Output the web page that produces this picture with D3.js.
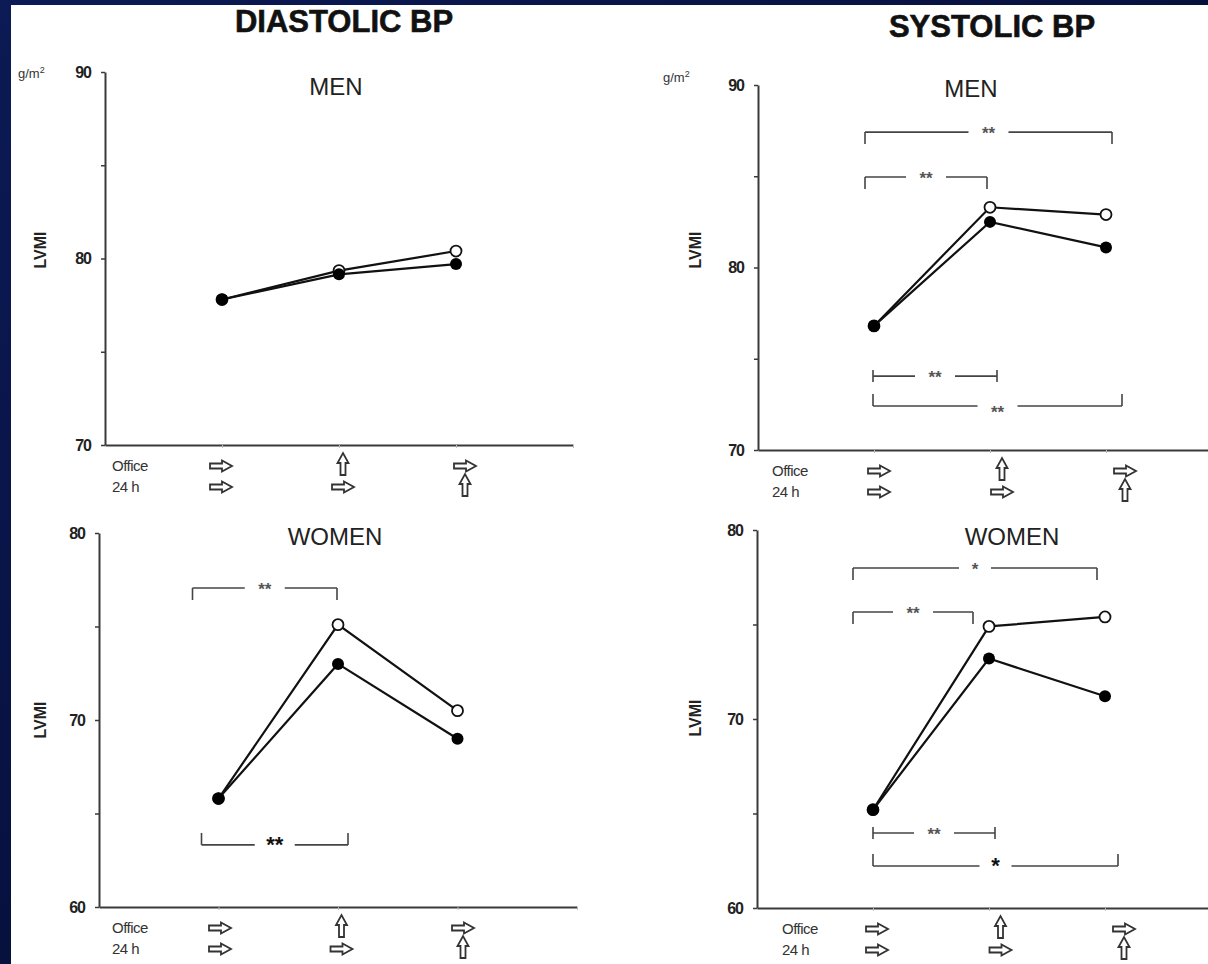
<!DOCTYPE html>
<html><head><meta charset="utf-8">
<script src="https://cdn.jsdelivr.net/npm/d3@7"></script>
<style>html,body{margin:0;padding:0;background:#fff;} svg{display:block;}</style>
</head><body><svg id="c" width="1208" height="964"></svg>
<script>
// ---- data ----
const groups = [1, 2, 3];
const officeArrows = ["right", "up", "right"];
const dayArrows = ["right", "right", "up"];
const rowLabels = ["Office", "24 h"];
const diaMenFilled = [77.8, 79.15, 79.7];
const diaMenOpen = [77.8, 79.35, 80.4];
const diaWomenFilled = [65.8, 73.0, 69.0];
const diaWomenOpen = [65.8, 75.1, 70.5];
const sysMenFilled = [76.8, 82.5, 81.1];
const sysMenOpen = [76.8, 83.3, 82.9];
const sysWomenFilled = [65.2, 73.2, 71.2];
const sysWomenOpen = [65.2, 74.9, 75.4];
const menTicks = [70, 75, 80, 85, 90];
const womenTicks = [60, 65, 70, 75, 80];
const diaMenSig = [];
const diaWomenSig = [
  {from: 1, to: 2, label: "**", side: "top"},
  {from: 1, to: 2, label: "**", side: "bottom"}
];
const sysMenSig = [
  {from: 1, to: 3, label: "**", side: "top"},
  {from: 1, to: 2, label: "**", side: "top"},
  {from: 1, to: 2, label: "**", side: "both"},
  {from: 1, to: 3, label: "**", side: "bottom"}
];
const sysWomenSig = [
  {from: 1, to: 3, label: "*", side: "top"},
  {from: 1, to: 2, label: "**", side: "top"},
  {from: 1, to: 2, label: "**", side: "both"},
  {from: 1, to: 3, label: "*", side: "bottom"}
];

// ---- layout ----
const panels = [
  {filled: diaMenFilled, open: diaMenOpen, ticks: menTicks, sig: diaMenSig, label: "MEN",
   axisX: 105, xEnd: 573, yTop: 72, yBot: 445, labelX: 336, labelY: 95, unit: [18, 78],
   lvmiX: 40, lvmiY: 250, arrowRange: [221, 465], rowX: 112,
   sigLayout: []},
  {filled: diaWomenFilled, open: diaWomenOpen, ticks: womenTicks, sig: diaWomenSig, label: "WOMEN",
   axisX: 99, xEnd: 577, yTop: 533, yBot: 907, labelX: 335, labelY: 545, unit: null,
   lvmiX: 40, lvmiY: 720, arrowRange: [220, 463], rowX: 112,
   sigLayout: [{level: 77.06, dx: [-26, -1], bold: false}, {level: 63.32, dx: [-17, 10], bold: true}]},
  {filled: sysMenFilled, open: sysMenOpen, ticks: menTicks, sig: sysMenSig, label: "MEN",
   axisX: 758, xEnd: 1222, yTop: 85, yBot: 450, labelX: 971, labelY: 97, unit: [663, 82],
   lvmiX: 695, lvmiY: 250, arrowRange: [879, 1125], rowX: 772,
   sigLayout: [{level: 87.42, dx: [-9, 6]}, {level: 84.96, dx: [-9, -3]},
               {level: 74.05, dx: [-1, 7]}, {level: 72.41, dx: [-1, 16], below: true}]},
  {filled: sysWomenFilled, open: sysWomenOpen, ticks: womenTicks, sig: sysWomenSig, label: "WOMEN",
   axisX: 757, xEnd: 1221, yTop: 530, yBot: 908, labelX: 1012, labelY: 545, unit: null,
   lvmiX: 695, lvmiY: 718, arrowRange: [877, 1124], rowX: 782,
   sigLayout: [{level: 77.99, dx: [-20, -8]}, {level: 75.66, dx: [-20, -16]},
               {level: 63.97, dx: [0, 6]}, {level: 62.22, dx: [0, 13], bold: true}]}
];
const titles = [{text: "DIASTOLIC BP", x: 344, y: 32}, {text: "SYSTOLIC BP", x: 992, y: 37}];

const svg = d3.select("#c");
const font = "'Liberation Sans', Arial, sans-serif";
const defs = svg.append("defs");
const grad = defs.append("linearGradient").attr("id", "bg").attr("x1", 0).attr("y1", 0).attr("x2", 1).attr("y2", 1);
grad.append("stop").attr("offset", "0%").attr("stop-color", "#0c1a55");
grad.append("stop").attr("offset", "100%").attr("stop-color", "#020827");
svg.append("rect").attr("width", 1208).attr("height", 964).attr("fill", "url(#bg)");
svg.append("rect").attr("x", 11).attr("y", 5).attr("width", 1197).attr("height", 959).attr("fill", "#fff");

const g0 = svg.append("g").attr("font-family", font);

titles.forEach(t => {
  g0.append("text").attr("x", t.x).attr("y", t.y).attr("text-anchor", "middle")
    .attr("font-size", 31).attr("font-weight", "bold").attr("fill", "#111")
    .attr("stroke", "#111").attr("stroke-width", 0.6).text(t.text);
});

const rightArrow = "M-11,-2.5 L1,-2.5 L1,-5.5 L11,0 L1,5.5 L1,2.5 L-11,2.5 Z";
const axisColor = "#3a3a3a";

panels.forEach(p => {
  const g = g0.append("g");
  const x = d3.scaleLinear().domain([0, 4]).range([p.axisX, p.xEnd]);
  const y = d3.scaleLinear().domain(d3.extent(p.ticks)).range([p.yBot, p.yTop]);
  const ax = d3.scaleLinear().domain([1, 3]).range(p.arrowRange);

  // y axis
  const yAxis = d3.axisLeft(y).tickValues(p.ticks).tickSize(4).tickSizeOuter(0).tickPadding(10)
    .tickFormat(d => d % 10 === 0 ? d : "");
  const ya = g.append("g").attr("transform", `translate(${p.axisX},0)`).call(yAxis);
  ya.select(".domain").attr("stroke", axisColor).attr("stroke-width", 2);
  ya.selectAll(".tick line").attr("stroke", axisColor).attr("stroke-width", 1.5);
  ya.selectAll(".tick text").attr("font-size", 16).attr("font-weight", "bold").attr("fill", "#222")
    .attr("font-family", font).attr("letter-spacing", -1);

  // x axis
  const xAxis = d3.axisBottom(x).tickValues([1, 2, 3, 4]).tickSize(3).tickSizeOuter(0).tickFormat("");
  const xa = g.append("g").attr("transform", `translate(0,${p.yBot})`).call(xAxis);
  xa.select(".domain").attr("stroke", axisColor).attr("stroke-width", 2.2);
  xa.selectAll(".tick line").attr("stroke", "#bbb").attr("stroke-width", 1);

  // unit & LVMI
  if (p.unit) {
    const u = g.append("text").attr("x", p.unit[0]).attr("y", p.unit[1]).attr("font-size", 13).attr("fill", "#333");
    u.append("tspan").text("g/m");
    u.append("tspan").attr("font-size", 9).attr("dy", -5).text("2");
  }
  g.append("text").attr("transform", `translate(${p.lvmiX},${p.lvmiY}) rotate(-90)`)
    .attr("text-anchor", "middle").attr("dy", "0.35em").attr("font-size", 16).attr("font-weight", "bold")
    .attr("fill", "#222").text("LVMI");

  g.append("text").attr("x", p.labelX).attr("y", p.labelY).attr("text-anchor", "middle")
    .attr("font-size", 24).attr("fill", "#222").text(p.label);

  // row labels and arrows
  const rowY = [p.yBot + 21, p.yBot + 42];
  rowLabels.forEach((r, i) => {
    g.append("text").attr("x", p.rowX).attr("y", rowY[i]).attr("dy", "0.35em")
      .attr("font-size", 15).attr("fill", "#333").attr("letter-spacing", -0.5).text(r);
  });
  [officeArrows, dayArrows].forEach((arr, i) => {
    g.selectAll(null).data(arr.map((a, k) => ({a, k: groups[k]}))).enter().append("path")
      .attr("d", rightArrow)
      .attr("transform", d => `translate(${ax(d.k)},${rowY[i] + (d.a === "up" ? -2 : 0)}) rotate(${d.a === "up" ? -90 : 0})`)
      .attr("fill", "#fff").attr("stroke", "#333").attr("stroke-width", 1.8).attr("stroke-linejoin", "miter");
  });

  // significance brackets
  p.sig.forEach((s, i) => {
    const L = p.sigLayout[i];
    const x0 = x(s.from) + L.dx[0], x1 = x(s.to) + L.dx[1], yy = y(L.level);
    const bg = g.append("g").attr("stroke", "#444").attr("stroke-width", 1.6).attr("fill", "none");
    const gapHalf = s.label.length === 2 ? 20 : 16;
    const xm = (x0 + x1) / 2;
    bg.append("line").attr("x1", x0).attr("x2", xm - gapHalf).attr("y1", yy).attr("y2", yy);
    bg.append("line").attr("x1", xm + gapHalf).attr("x2", x1).attr("y1", yy).attr("y2", yy);
    const t = 12;
    [x0, x1].forEach(xe => {
      if (s.side === "top") bg.append("line").attr("x1", xe).attr("x2", xe).attr("y1", yy).attr("y2", yy + t);
      else if (s.side === "bottom") bg.append("line").attr("x1", xe).attr("x2", xe).attr("y1", yy).attr("y2", yy - t);
      else bg.append("line").attr("x1", xe).attr("x2", xe).attr("y1", yy - 6).attr("y2", yy + 6);
    });
    g.append("text").attr("x", xm).attr("y", L.below ? yy + 12 : yy + 7).attr("text-anchor", "middle")
      .attr("font-size", L.bold ? 22 : 17).attr("font-weight", "bold")
      .attr("fill", L.bold ? "#111" : "#555").text(s.label);
  });

  // series
  const line = d3.line().x((d, i) => x(groups[i])).y(d => y(d));
  g.append("path").datum(p.open).attr("d", line).attr("fill", "none").attr("stroke", "#111").attr("stroke-width", 2.2);
  g.append("path").datum(p.filled).attr("d", line).attr("fill", "none").attr("stroke", "#111").attr("stroke-width", 2.2);
  g.selectAll(null).data(p.open).enter().append("circle")
    .attr("cx", (d, i) => x(groups[i])).attr("cy", d => y(d)).attr("r", 5.5)
    .attr("fill", "#fff").attr("stroke", "#111").attr("stroke-width", 1.8);
  g.selectAll(null).data(p.filled).enter().append("circle")
    .attr("cx", (d, i) => x(groups[i])).attr("cy", d => y(d)).attr("r", 6)
    .attr("fill", "#000");
});
</script>
</body></html>
